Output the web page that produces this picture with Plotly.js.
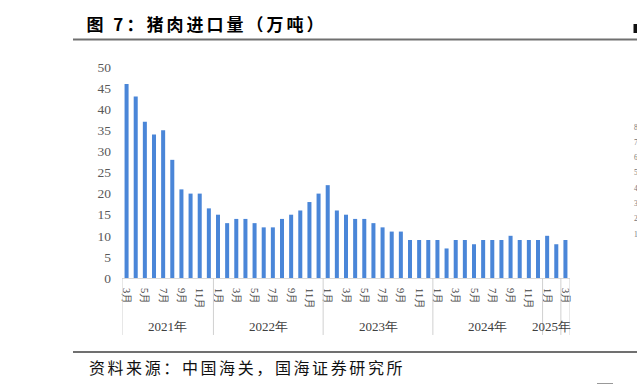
<!DOCTYPE html>
<html>
<head>
<meta charset="utf-8">
<script src="https://cdn.plot.ly/plotly-3.0.1.min.js"></script>
<style>
html,body{margin:0;padding:0;background:#fff;}
#chart{width:637px;height:385px;}
</style>
</head>
<body>
<div id="chart"></div>
<script>
// Monthly categories (2021-03 .. 2025-03)
const months = [
  '2021-03','2021-04','2021-05','2021-06','2021-07','2021-08','2021-09','2021-10','2021-11','2021-12',
  '2022-01','2022-02','2022-03','2022-04','2022-05','2022-06','2022-07','2022-08','2022-09','2022-10','2022-11','2022-12',
  '2023-01','2023-02','2023-03','2023-04','2023-05','2023-06','2023-07','2023-08','2023-09','2023-10','2023-11','2023-12',
  '2024-01','2024-02','2024-03','2024-04','2024-05','2024-06','2024-07','2024-08','2024-09','2024-10','2024-11','2024-12',
  '2025-01','2025-02','2025-03'
];
// Pork imports (10k tonnes)
const importVolume = [
  46,43,37,34,35,28,21,20,20,16.5,
  15,13,14,14,13,12,12,14,15,16,18,20,
  22,16,15,14,14,13,12,11,11,9,9,9,
  9,7,9,9,8,9,9,9,10,9,9,9,
  10,8,9
];
const yearLabels = ['2021年','2022年','2023年','2024年','2025年'];
const yearGroupSizes = [10,12,12,12,3];
const sideTickLabels = ['8','7','6','5','4','3','2','1'];
const titleText = '图 7：猪肉进口量（万吨）';
const sourceText = '资料来源：中国海关，国海证券研究所';

// Month tick labels on odd months
const tickVals = [], tickText = [];
months.forEach(m => {
  const mo = parseInt(m.split('-')[1], 10);
  if (mo % 2 === 1) { tickVals.push(m); tickText.push(mo + '月'); }
});

const serif = '"Liberation Serif", "Times New Roman", serif';
const cjk = '"Noto Sans CJK SC", sans-serif';

const shapes = [];
const annotations = [];
const py = v => (385 - 107 - v) / 211; // pixel y -> paper
const px = v => (v - 122) / 448;       // pixel x -> paper

// group separators
let idx = -0.5;
const seps = [-0.5];
yearGroupSizes.forEach(n => { idx += n; seps.push(idx); });
seps.splice(seps.length - 1, 0, 47.5);
seps.forEach(s => shapes.push({
  type:'line', xref:'x', yref:'paper', x0:s, x1:s, y0:0, y1:-0.27,
  line:{color:'#d0d0d0', width:1}
}));

// year labels
let start = 0;
yearGroupSizes.forEach((n, i) => {
  let c = start + (n - 1) / 2;
  if (i === yearGroupSizes.length - 1) c = start + 0.5;
  annotations.push({
    xref:'x', yref:'paper', x:c, y:-0.231, text:yearLabels[i], showarrow:false,
    xanchor:'center', yanchor:'middle', font:{family:serif, size:13, color:'#404040'}
  });
  start += n;
});

// page title / source (x shifted by half of added letter-spacing)
const titleSpacing = 3, sourceSpacing = 2.6;
annotations.push({
  xref:'paper', yref:'paper', x:px(87 + titleSpacing * 11 / 2), y:py(23), text:'<b>'+titleText+'</b>', showarrow:false,
  xanchor:'left', yanchor:'middle', font:{family:cjk, size:17, color:'#000'}
});
annotations.push({
  xref:'paper', yref:'paper', x:px(87 + sourceSpacing * 17 / 2), y:py(367), text:sourceText, showarrow:false,
  xanchor:'left', yanchor:'middle', font:{family:cjk, size:16, color:'#111'}
});
sideTickLabels.forEach((t, i) => {
  annotations.push({
    xref:'paper', yref:'paper', x:px(632), y:py(127 + i * 15.3), text:t, showarrow:false,
    xanchor:'left', yanchor:'middle', font:{family:serif, size:7.5, color:'#777'}
  });
});

// decorative page lines
shapes.push({type:'line', xref:'paper', yref:'paper', x0:px(73), x1:px(640), y0:py(39.5), y1:py(39.5), line:{color:'#707070', width:1.8}});
shapes.push({type:'line', xref:'paper', yref:'paper', x0:px(73), x1:px(640), y0:py(352), y1:py(352), line:{color:'#707070', width:1.8}});
shapes.push({type:'rect', xref:'paper', yref:'paper', x0:px(633.5), x1:px(637), y0:py(33), y1:py(24), fillcolor:'#111', line:{width:0}});
shapes.push({type:'line', xref:'paper', yref:'paper', x0:px(597), x1:px(613), y0:py(383.5), y1:py(383.5), line:{color:'#999', width:1}});

const data = [{
  type:'bar', x:months, y:importVolume,
  marker:{color:'#4a86d8'}, width:0.44, hoverinfo:'x+y'
}];

const layout = {
  width:637, height:385,
  margin:{l:122, r:67, t:67, b:107, pad:0},
  paper_bgcolor:'#fff', plot_bgcolor:'#fff',
  showlegend:false,
  xaxis:{
    type:'category', range:[-0.5, 48.5], showgrid:false, zeroline:false,
    showline:true, linecolor:'#d9d9d9', linewidth:1,
    tickmode:'array', tickvals:tickVals, ticktext:tickText, tickangle:90,
    ticks:'', ticklabelstandoff:7,
    tickfont:{family:serif, size:10.5, color:'#404040'}
  },
  yaxis:{
    range:[0,50], dtick:5, tick0:0, showgrid:false, zeroline:false, showline:false,
    ticks:'', ticklabelstandoff:10,
    tickfont:{family:serif, size:13.5, color:'#595959'}
  },
  shapes:shapes,
  annotations:annotations
};

Plotly.newPlot('chart', data, layout, {staticPlot:true, displayModeBar:false}).then(() => {
  document.querySelectorAll('.annotation-text').forEach(el => {
    const t = el.textContent;
    if (t === titleText) el.setAttribute('letter-spacing', titleSpacing + 'px');
    if (t === sourceText) el.setAttribute('letter-spacing', sourceSpacing + 'px');
  });
});
</script>
</body>
</html>
